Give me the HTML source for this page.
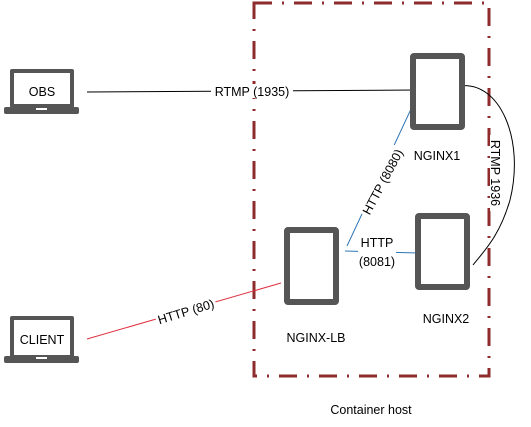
<!DOCTYPE html>
<html><head><style>
html,body{margin:0;padding:0;background:#fff;}
svg{display:block;font-family:"Liberation Sans",sans-serif;}
</style></head><body>
<svg width="531" height="427" viewBox="0 0 531 427" xmlns="http://www.w3.org/2000/svg">
<rect x="254" y="3" width="235" height="373" fill="none" stroke="#8e2b2b" stroke-width="3" stroke-dasharray="18 10 2 10"/>
<line x1="87" y1="92" x2="416" y2="90" stroke="#000" stroke-width="1"/>
<path d="M459,86 C500,80 525,140 510,200 C500,235 485,250 473,265" fill="none" stroke="#000" stroke-width="1"/>
<line x1="347" y1="246" x2="419" y2="92" stroke="#2e75b6" stroke-width="1"/>
<line x1="345" y1="251" x2="418" y2="253" stroke="#2e75b6" stroke-width="1"/>
<line x1="87" y1="339" x2="281" y2="283" stroke="#e03040" stroke-width="1"/>
<rect x="413" y="56" width="49" height="71" fill="#fff" stroke="#555" stroke-width="6" rx="1"/>
<rect x="418" y="216" width="49" height="71" fill="#fff" stroke="#555" stroke-width="6" rx="1"/>
<rect x="287" y="230" width="49" height="72" fill="#fff" stroke="#555" stroke-width="6" rx="1"/>
<g fill="#555">
<rect x="10" y="69" width="64" height="39" rx="2"/>
<rect x="4" y="107" width="75" height="7" rx="2"/>
<rect x="10" y="316" width="64" height="42" rx="2"/>
<rect x="4" y="356" width="75" height="7" rx="2"/>
</g>
<rect x="14" y="73" width="56" height="31" fill="#fff"/>
<rect x="36" y="108" width="11" height="2" fill="#fff"/>
<rect x="14" y="320" width="56" height="35" fill="#fff"/>
<rect x="36" y="357" width="11" height="2" fill="#fff"/>
<g font-size="12.5" fill="#000" text-anchor="middle">
<text x="42" y="96">OBS</text>
<text x="42" y="344">CLIENT</text>
<text x="437" y="160">NGINX1</text>
<text x="446" y="323">NGINX2</text>
<text x="316" y="342">NGINX-LB</text>
<text x="371" y="414">Container host</text>
<rect x="211" y="84" width="82" height="14" fill="#fff"/>
<text x="252" y="96">RTMP (1935)</text>
<rect x="358" y="236" width="38" height="32" fill="#fff"/>
<text x="377" y="247">HTTP</text>
<text x="377" y="266">(8081)</text>
<g transform="translate(383,182) rotate(-62)"><rect x="-38" y="-9" width="76" height="14" fill="#fff"/><text x="0" y="4">HTTP (8080)</text></g>
<g transform="translate(495,173) rotate(90)"><rect x="-38" y="-9" width="76" height="14" fill="#fff"/><text x="0" y="4">RTMP 1936</text></g>
<g transform="translate(186,312) rotate(-17)"><rect x="-31" y="-9" width="62" height="14" fill="#fff"/><text x="0" y="4">HTTP (80)</text></g>
</g>
</svg>
</body></html>
